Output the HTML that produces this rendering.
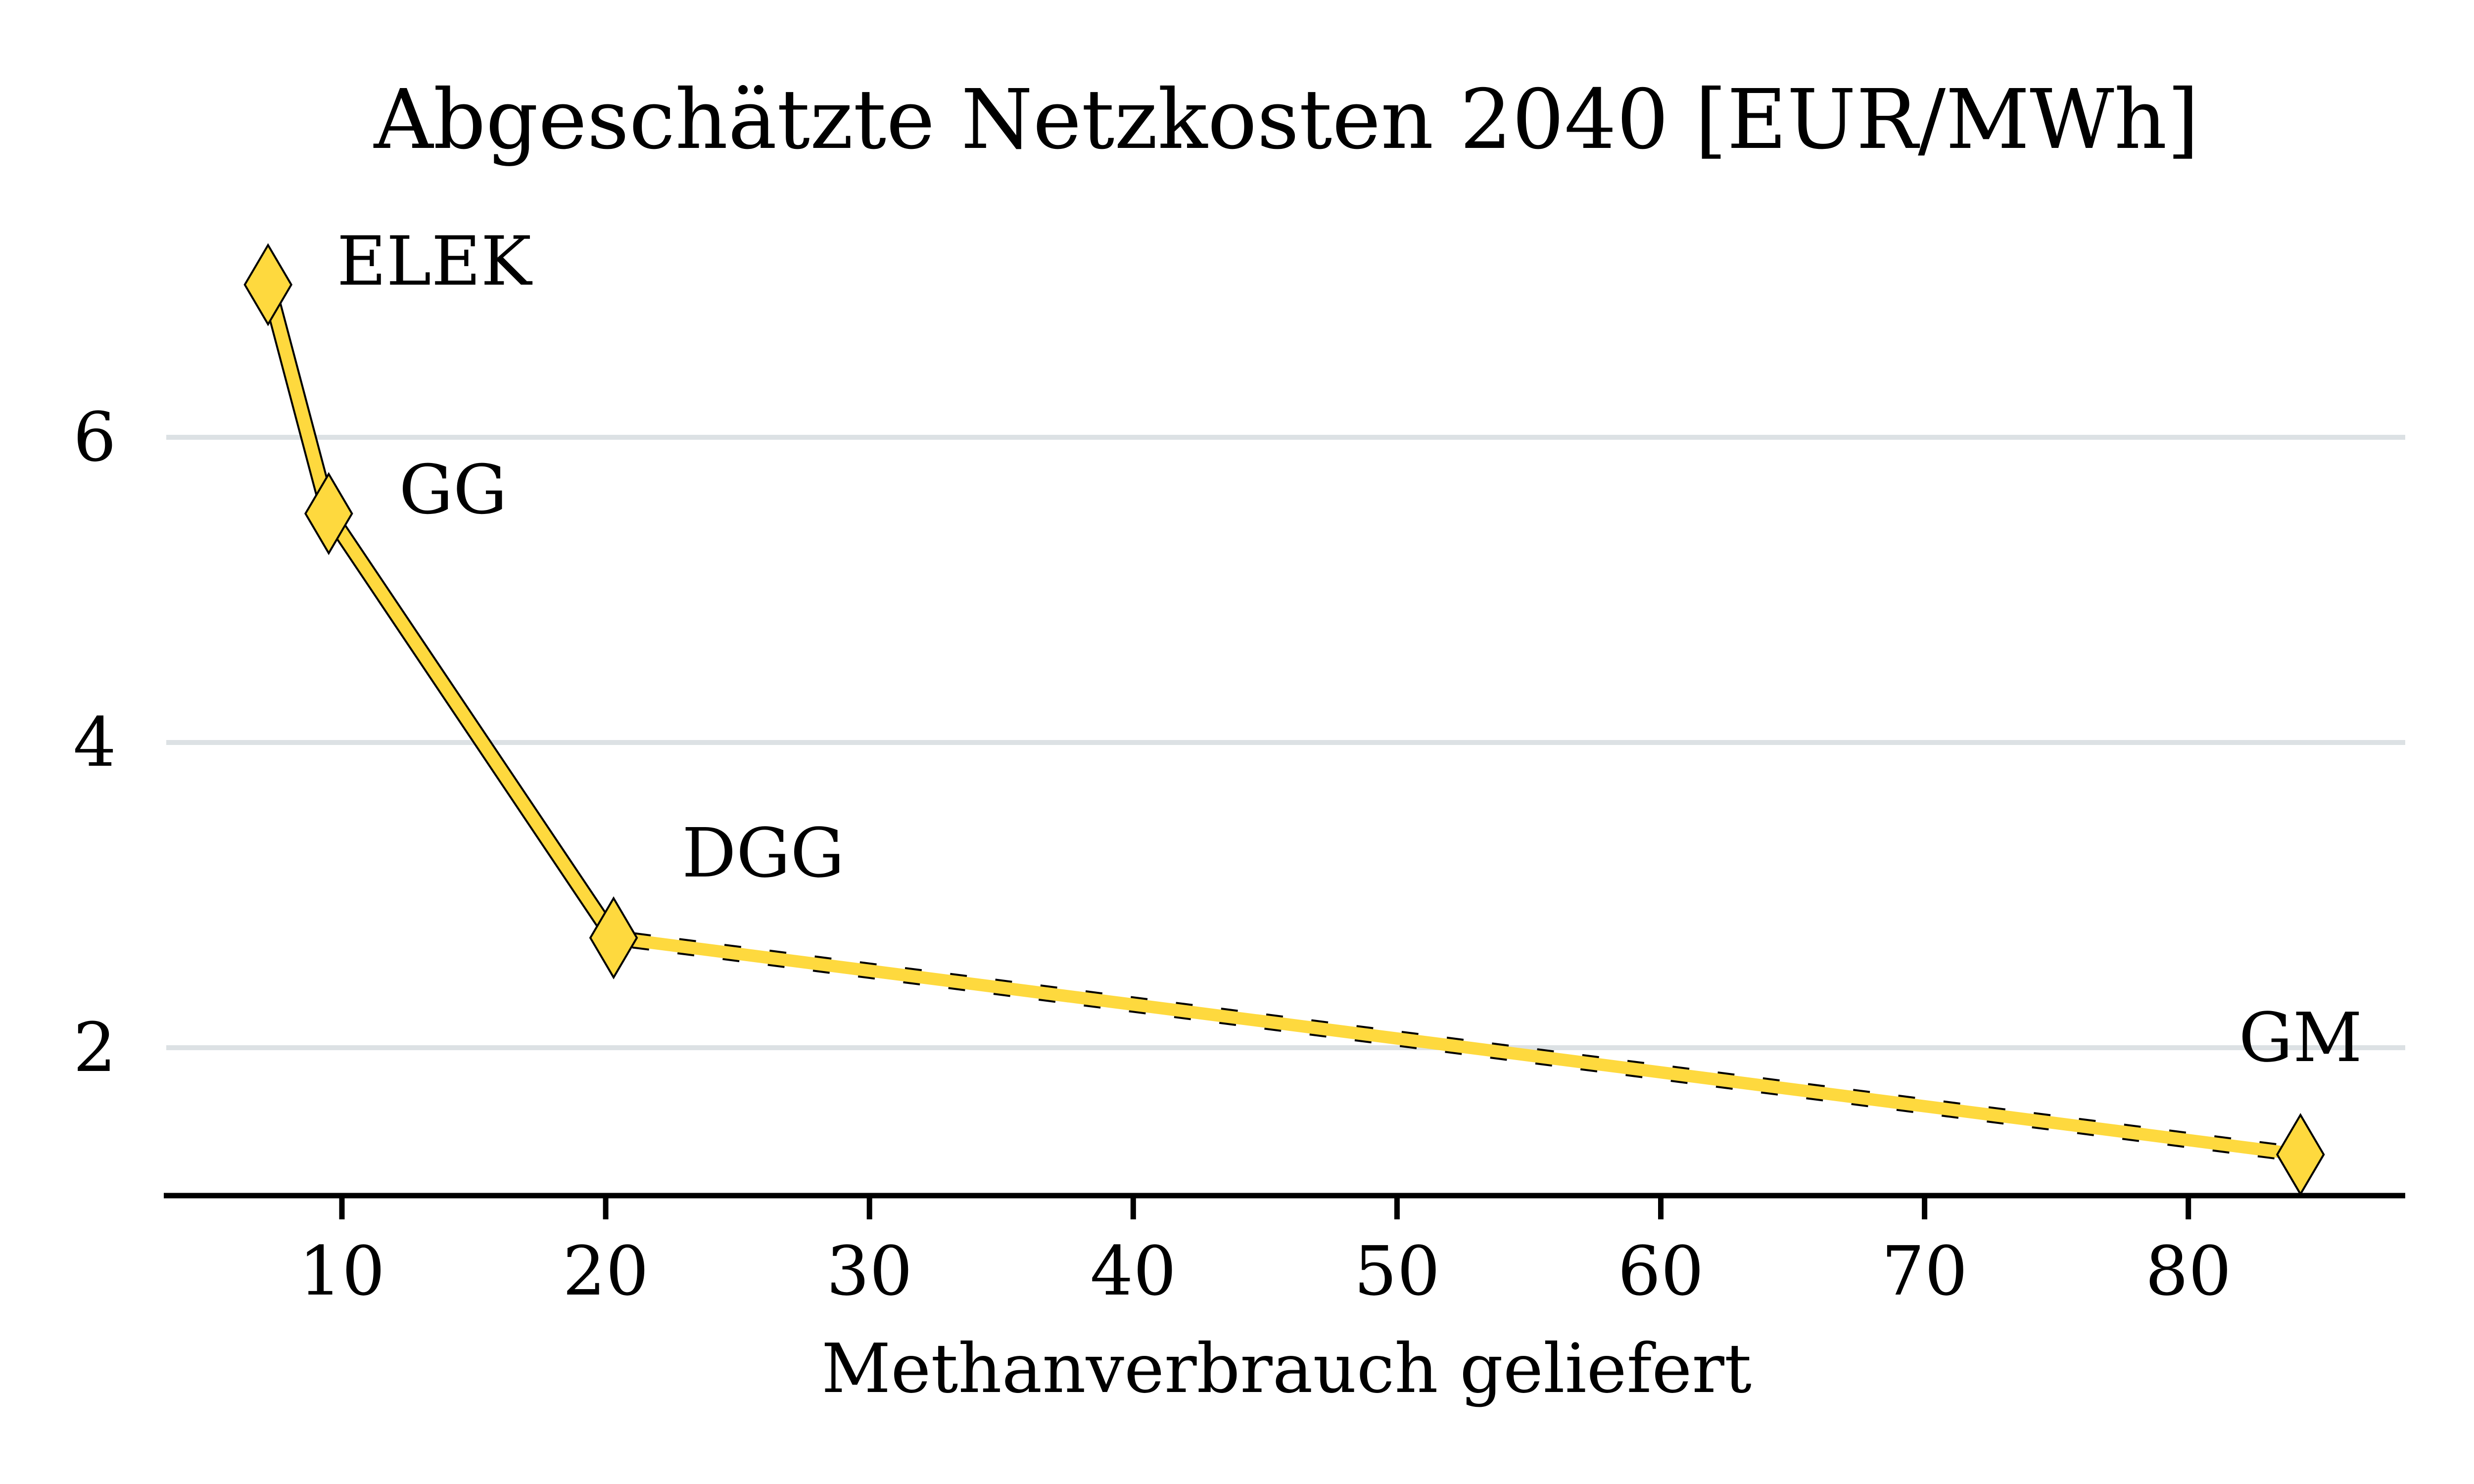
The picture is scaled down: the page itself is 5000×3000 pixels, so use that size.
<!DOCTYPE html>
<html><head><meta charset="utf-8">
<style>
html,body{margin:0;padding:0;background:#fff;}
svg{display:block;}
text{font-family:"DejaVu Serif","Liberation Serif",serif;fill:#000;}
</style></head>
<body>
<svg id="chart" width="5000" height="3000" viewBox="0 0 5000 3000">
<rect width="5000" height="3000" fill="#fff"/>
<text x="2600" y="299" font-size="166" text-anchor="middle">Abgeschätzte Netzkosten 2040 [EUR/MWh]</text>
<g id="grid"></g>
<g id="yticks"></g>
<g id="xaxis"></g>
<g id="series"></g>
<g id="labels"></g>
<text x="2600" y="2814" font-size="137" text-anchor="middle">Methanverbrauch geliefert</text>
</svg>
<script>
const categories = ["ELEK", "GG", "DGG", "GM"];
const xValues = [7.2, 9.5, 20.3, 84.25];
const yValues = [7.0, 5.5, 2.72, 1.3];
const dashedFrom = [false, false, true];
const xTicks = [10, 20, 30, 40, 50, 60, 70, 80];
const yTicks = [2, 4, 6];

const NS = "http://www.w3.org/2000/svg";
const X0 = 331, X1 = 4861, AXY = 2417;
function xs(v){ return 691 + (v - 10) * 53.31; }
function ys(v){ return 2118 - (v - 2) * 308.5; }
function mk(tag, attrs, parent){
  const e = document.createElementNS(NS, tag);
  for (const k in attrs) e.setAttribute(k, attrs[k]);
  parent.appendChild(e);
  return e;
}
const grid = document.getElementById('grid');
const yt = document.getElementById('yticks');
yTicks.forEach(v => {
  const l = mk('line', {x1: 336, x2: 4861, y1: ys(v), y2: ys(v), stroke: '#dce1e4', 'stroke-width': 10}, grid);
  
  
  const t = mk('text', {x: 235, y: ys(v) + 47, 'font-size': 137, 'text-anchor': 'end'}, yt);
  t.textContent = v;
  
  
});
const xa = document.getElementById('xaxis');
const axl = mk('line', {x1: X0, x2: X1, y1: AXY, y2: AXY, stroke: '#000', 'stroke-width': 11}, xa);


xTicks.forEach(v => {
  const tk = mk('line', {x1: xs(v), x2: xs(v), y1: AXY, y2: AXY + 48, stroke: '#000', 'stroke-width': 11}, xa);
  
  
  const t = mk('text', {x: xs(v), y: 2617, 'font-size': 137, 'text-anchor': 'middle'}, xa);
  t.textContent = v;
  
  
});
const s = document.getElementById('series');
for (let i = 0; i < xValues.length - 1; i++) {
  const a = {x1: xs(xValues[i]), y1: ys(yValues[i]), x2: xs(xValues[i+1]), y2: ys(yValues[i+1])};
  const b = mk('line', Object.assign({stroke: '#000', 'stroke-width': 33}, a), s);
  if (dashedFrom[i]) { b.setAttribute('stroke-dasharray', '34 58'); b.setAttribute('stroke-dashoffset', '-40'); }
  
  
  const y = mk('line', Object.assign({stroke: '#fed93e', 'stroke-width': 25}, a), s);
  
  
}
const lbl = document.getElementById('labels');
const labelDx = [139, 142, 138, 0];
const labelDy = [0, -1, -124, -189];
xValues.forEach((xv, i) => {
  const cx = xs(xv), cy = ys(yValues[i]);
  const d = mk('polygon', {points: `${cx},${cy-80} ${cx+47},${cy} ${cx},${cy+80} ${cx-47},${cy}`, fill: '#fed93e', stroke: '#000', 'stroke-width': 4}, s);
  
  
  const t = mk('text', {x: cx + labelDx[i], y: cy + labelDy[i], 'font-size': 137, 'text-anchor': i === 3 ? 'middle' : 'start'}, lbl);
  t.textContent = categories[i];
  
  
});
</script>
</body></html>
